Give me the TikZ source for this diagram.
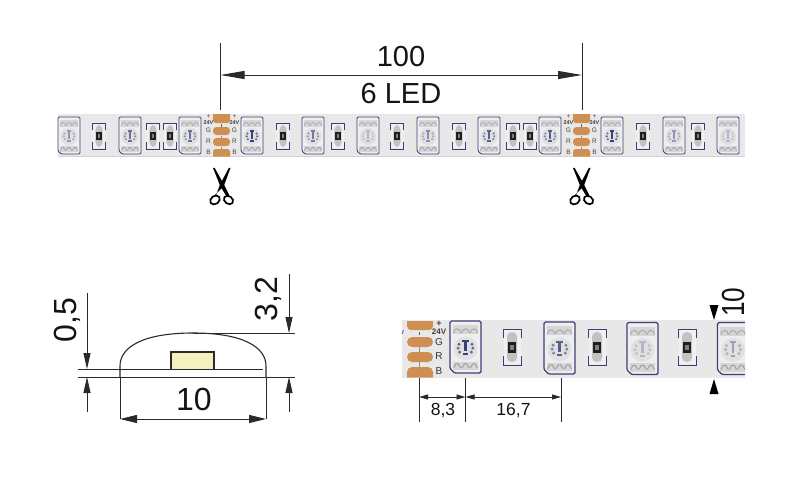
\documentclass[tikz,border=0pt]{standalone}
\usepackage{fontspec}
\setmainfont{Liberation Sans}
\usetikzlibrary{arrows.meta}
\definecolor{stripfill}{HTML}{E8E8E8}
\definecolor{stripedge}{HTML}{D4D4D4}
\definecolor{copper}{HTML}{CF8F52}
\definecolor{chipedge}{HTML}{3C4078}
\definecolor{inkline}{HTML}{2A2A2A}
\definecolor{chipyellow}{HTML}{F5F0C0}
\tikzset{
  extline/.style={draw=inkline,line width=.9pt},
  dimbig/.style={extline,{Triangle[length=24pt,width=8pt]}-{Triangle[length=24pt,width=8pt]}},
  dimmid/.style={extline,{Triangle[length=17pt,width=8pt]}-{Triangle[length=17pt,width=8pt]}},
  oneway/.style={extline,-{Triangle[length=16pt,width=7pt]}},
  dimsmall/.style={extline,{Triangle[length=9pt,width=5pt]}-{Triangle[length=9pt,width=5pt]}},
  label/.style={inner sep=0pt,text=black!92},
  padtext/.style={inner sep=0pt,text=black!75,font=\fontsize{6.5}{7}\selectfont},
  padtextb/.style={inner sep=0pt,text=black!80,font=\fontsize{10}{11}\selectfont},
}
% LED chip: centre x, centre y, scale, tone of the die
\newcommand{\ledchip}[4]{%
  \begin{scope}[shift={(#1,#2)},scale=#3]
    \fill[fill=stripfill!75!white] (-11,-18.5) rectangle (11,18.5);
    \fill[black!16] (-9,-15.5) rectangle (9,-9);
    \fill[black!16] (-9,10.5) rectangle (9,16.5);
    \foreach \bx in {-6,0,6}{
      \draw[black!34,line width=.7pt*#3] (\bx-2.6,-10) arc (180:360:2.6 and 3);
      \draw[black!38,line width=.7pt*#3] (\bx-2.6,15) -- (\bx-.8,12) -- (\bx+.8,12) -- (\bx+2.6,15);
    }
    \fill[white!88!black] (0,1) circle (8.5);
    \fill[#4] (-.9,-4.5) rectangle (.9,3);
    \fill[#4] (-2.4,-5.2) rectangle (2.4,-3.8);
    \fill[#4] (-1.6,4.6) rectangle (1.6,6);
    \foreach \dx/\dy in {-4.6/-2,-5.2/.8,-4.2/3.6,4.6/-2,5.2/.8,4.2/3.6}{
      \fill[#4,opacity=.75] (\dx,\dy) circle (1.15);
    }
    \draw[chipedge,line width=.9pt*#3,rounded corners=1.2pt]
      (-11,-18.5) -- (11,-18.5) -- (11,18.5) -- (-8,18.5) -- (-11,15.5) -- cycle;
  \end{scope}}
% SMD resistor: centre x, centre y, scale
\newcommand{\smdres}[3]{%
  \begin{scope}[shift={(#1,#2)},scale=#3]
    \fill[white!94!black] (-8.5,-17) rectangle (8.5,17);
    \fill[black!24,rounded corners=4.5pt] (-5,-15) rectangle (5,15);
    \fill[black!88] (-4,-5.5) rectangle (4,5.5);
    \fill[black!50] (-1.8,-2.5) rectangle (1.8,2.5);
    \draw[chipedge,line width=.8pt*#3] (-9,-9) -- (-9,-18) -- (9,-18) -- (9,-9);
    \draw[chipedge,line width=.8pt*#3] (-9,9) -- (-9,18) -- (9,18) -- (9,9);
  \end{scope}}
% Scissors: pivot x, pivot y
\newcommand{\snip}[2]{%
  \begin{scope}[shift={(#1,#2)}]
    \fill[black] (-9,-17) -- (-7.4,-17.2) -- (2,-.5) -- (7.4,10.5) -- (4.6,11.5) -- (-1.8,1) -- cycle;
    \fill[black] (8.5,-17) -- (6.9,-17.2) -- (-2,-.5) -- (-6,10.5) -- (-8.6,11.5) -- (1.8,1) -- cycle;
    \draw[black,line width=1.7pt,rotate around={35:(-7,15)}] (-7,15) ellipse (5.2 and 4);
    \draw[black,line width=1.7pt,rotate around={-35:(6.5,15)}] (6.5,15) ellipse (5 and 3.8);
  \end{scope}}
% Solder pads of the top strip: centre x
\newcommand{\toppads}[1]{%
  \begin{scope}[shift={(#1,0)}]
    \fill[copper] (-8.5,114) -- (8.5,114) -- (8.5,120) to[out=-90,in=0] (6,123) -- (-6,123) to[out=180,in=-90] (-8.5,120) -- cycle;
    \fill[copper,rounded corners=3.5pt] (-8.5,127) rectangle (8.5,135);
    \fill[copper,rounded corners=3.5pt] (-8.5,138) rectangle (8.5,146);
    \fill[copper] (-6,149) -- (6,149) to[out=0,in=90] (8.5,152) -- (8.5,156.5) -- (-8.5,156.5) -- (-8.5,152) to[out=90,in=180] (-6,149) -- cycle;
    \fill[black!60] (-.5,124) rectangle (.5,126.5);
    \fill[black!45] (-.5,136) rectangle (.5,137.5);
    \fill[black!45] (-.5,146.5) rectangle (.5,148.5);
    \foreach \side in {-13,13}{
      \node[padtext] at (\side,117) {+};
      \node[padtext,font=\fontsize{5.5}{6}\selectfont\bfseries] at (\side,123) {24V};
      \node[padtext] at (\side,130) {G};
      \node[padtext] at (\side,141) {R};
      \node[padtext] at (\side,152) {B};
    }
  \end{scope}}
\begin{document}
\begin{tikzpicture}[x=1pt,y=-1pt]
\useasboundingbox (0,0) rectangle (800,488);
\fill[white] (0,0) rectangle (800,488);

% --- top strip
\fill[stripfill] (58,114) rectangle (745,156.5);
\draw[stripedge,line width=.6pt] (58,156.5) -- (745,156.5);
\foreach \cx/\tone in {69/chipedge!55,130/chipedge!75,190/chipedge!75,252/chipedge,313/chipedge!70,368/chipedge!38,428/chipedge!60,489/chipedge!85,550/chipedge!85,612/chipedge,674/chipedge!55,728/chipedge!38}{
  \ledchip{\cx}{135.5}{1}{\tone}
}
\foreach \cx in {99,153,170,283,338,397,459,513,530,643,698}{
  \smdres{\cx}{136}{.72}
}
\toppads{221.5}
\toppads{581.5}
\snip{222}{185}
\snip{582}{185}

\coordinate (topL) at (220.5,43);
\coordinate (topLb) at (220.5,110);
\coordinate (topR) at (582,43);
\coordinate (topRb) at (582,110);
\draw[extline] (topL) -- (topLb);
\draw[extline] (topR) -- (topRb);
\coordinate (topA) at (220.5,75);
\coordinate (topB) at (582,75);
\draw[dimbig] (topA) -- (topB);
\node[label,font=\fontsize{29}{31}\selectfont] (len) at (401,56.5) {100};
\node[label,font=\fontsize{29}{31}\selectfont] (leds) at (401,93.5) {6 LED};

% --- cross-section
\coordinate (secLa) at (78,369);
\coordinate (secLb) at (263,369);
\coordinate (secBa) at (78,377);
\coordinate (secBb) at (295,377);
\coordinate (secTa) at (193,333);
\coordinate (secTb) at (295,333);
\draw[inkline,line width=1.1pt] (120,377) -- (120,366) .. controls (120,347) and (143,333) .. (193,333) .. controls (243,333) and (266,347) .. (266,366) -- (266,377);
\fill[chipyellow] (171,352) rectangle (214,369);
\draw[inkline,line width=1.1pt] (171,369) -- (171,352) -- (214,352) -- (214,369);
\draw[extline] (secLa) -- (secLb);
\draw[extline] (secBa) -- (secBb);
\draw[extline] (secTa) -- (secTb);
\coordinate (a05t) at (87,293);
\coordinate (a05a) at (87,369);
\coordinate (a05b) at (87,412);
\coordinate (a05c) at (87,377);
\coordinate (a32t) at (289,274);
\coordinate (a32a) at (289,333);
\coordinate (a32b) at (289,412);
\coordinate (a32c) at (289,377);
\draw[oneway] (a05t) -- (a05a);
\draw[oneway] (a05b) -- (a05c);
\draw[oneway] (a32t) -- (a32a);
\draw[oneway] (a32b) -- (a32c);
\coordinate (w10a) at (120,419);
\coordinate (w10b) at (266,419);
\coordinate (e10a) at (120,377);
\coordinate (e10b) at (266,377);
\draw[extline] (e10a) -- (w10a);
\draw[extline] (e10b) -- (w10b);
\draw[dimmid] (w10a) -- (w10b);
\node[label,font=\fontsize{32}{34}\selectfont] (w10) at (194,399.5) {10};
\node[label,rotate=90,font=\fontsize{32}{34}\selectfont] (h05) at (67,320) {0,5};
\node[label,rotate=90,font=\fontsize{32}{34}\selectfont] (h32) at (268,299) {3,2};

% --- enlarged strip
\begin{scope}
\clip (402,320) rectangle (745,378);
\fill[stripfill] (402,320) rectangle (745,377.5);
\foreach \cx/\cy/\tone in {465.5/347/chipedge,559.5/348/chipedge!85,642.5/348.5/chipedge!38,733/348.5/chipedge!50}{
  \ledchip{\cx}{\cy}{1.4}{\tone}
}
\foreach \cx/\cy in {512/347,597/347,687/347}{
  \smdres{\cx}{\cy}{1}
}
\fill[copper] (407,321) -- (433,321) -- (433,326) to[out=-90,in=0] (429,330) -- (411,330) to[out=180,in=-90] (407,326) -- cycle;
\fill[copper,rounded corners=5pt] (407,337) rectangle (433,347);
\fill[copper,rounded corners=5pt] (407,352) rectangle (433,362);
\fill[copper] (412,367) -- (428,367) to[out=0,in=90] (433,372) -- (433,377.5) -- (407,377.5) -- (407,372) to[out=90,in=180] (412,367) -- cycle;
\fill[black!60] (419.2,332) rectangle (420,335);
\fill[black!45] (419.2,347) rectangle (420,352);
\fill[black!45] (419.2,362) rectangle (420,367);
\end{scope}
\draw[black!70,line width=.7pt] (402,334) -- (403.5,330);
\node[padtext,font=\fontsize{9}{10}\selectfont\bfseries] (p1) at (439,324) {+};
\node[padtext,font=\fontsize{8}{9}\selectfont\bfseries] (p2) at (439,332) {24V};
\node[padtextb] (p3) at (439,342) {G};
\node[padtextb] (p4) at (439,356) {R};
\node[padtextb] (p5) at (439,371) {B};

\coordinate (x1t) at (419,378);
\coordinate (x1b) at (419,422);
\coordinate (x2t) at (465.5,378);
\coordinate (x2b) at (465.5,422);
\coordinate (x3t) at (561,378);
\coordinate (x3b) at (561,422);
\coordinate (d1) at (419,397);
\coordinate (d2) at (465.5,397);
\coordinate (d3) at (561,397);
\draw[extline] (x1t) -- (x1b);
\draw[extline] (x2t) -- (x2b);
\draw[extline] (x3t) -- (x3b);
\draw[dimsmall] (d1) -- (d2);
\draw[dimsmall] (d2) -- (d3);
\node[label,font=\fontsize{17.5}{19}\selectfont] (w83) at (443,410.5) {8,3};
\node[label,font=\fontsize{17.5}{19}\selectfont] (w167) at (513.5,410.5) {16,7};

\fill[black] (709.5,305) -- (718.5,305) -- (714,320) -- cycle;
\fill[black] (709.5,394) -- (718.5,394) -- (714,379) -- cycle;
\node[label,rotate=90,font=\fontsize{32}{34}\selectfont] (h10) at (733.5,302) {\scalebox{.82}[1]{10}};
\end{tikzpicture}
\end{document}
